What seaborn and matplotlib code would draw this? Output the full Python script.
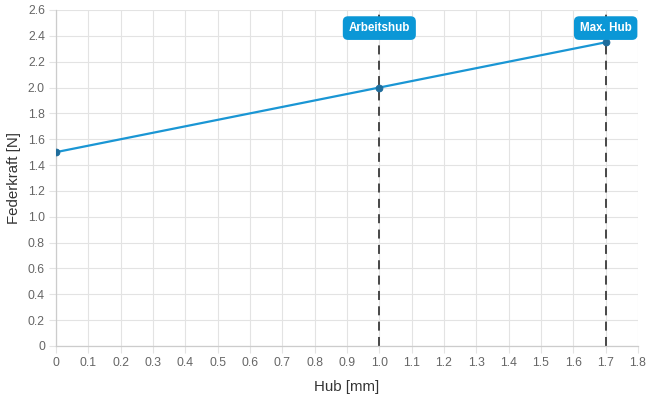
import matplotlib
matplotlib.use("Agg")
import matplotlib.pyplot as plt
import seaborn as sns
import pandas as pd

hub = [0.0, 1.0, 1.7]
kraft = [1.5, 2.0, 2.35]
marker_x = [1.0, 1.7]
marker_labels = ["Arbeitshub", "Max. Hub"]
x_ticks = [0, 0.1, 0.2, 0.3, 0.4, 0.5, 0.6, 0.7, 0.8, 0.9, 1.0, 1.1, 1.2, 1.3, 1.4, 1.5, 1.6, 1.7, 1.8]
y_ticks = [0, 0.2, 0.4, 0.6, 0.8, 1.0, 1.2, 1.4, 1.6, 1.8, 2.0, 2.2, 2.4, 2.6]

sns.set_theme(style="white")
plt.rcParams['font.family'] = ['Liberation Sans', 'DejaVu Sans']

df = pd.DataFrame({"Hub": hub, "Kraft": kraft})

fig = plt.figure(figsize=(6.5, 4), dpi=100)
ax = fig.add_axes([56/650, 1-346/400, (638-56)/650, (346-10)/400])

sns.lineplot(data=df, x="Hub", y="Kraft", ax=ax, color="#1a96d4", linewidth=1.6,
             marker="o", markersize=4.8, markerfacecolor="#1f6d9c", markeredgecolor="#1f6d9c", zorder=3)

for mx, lab in zip(marker_x, marker_labels):
    ax.axvline(mx, color="#3a3a3a", linestyle=(0, (5, 3.5)), linewidth=1.3, zorder=2)
    ax.text(mx, 2.46, lab, ha="center", va="center", color="white", fontsize=8.4, fontweight="bold",
            bbox=dict(boxstyle="round,pad=0.5,rounding_size=0.45", facecolor="#0b97d6", edgecolor="none"), zorder=4)

ax.set_xlim(0, 1.8)
ax.set_ylim(0, 2.6)
ax.set_xticks(x_ticks)
ax.set_xticklabels([("0" if v == 0 else f"{v:.1f}") for v in x_ticks])
ax.set_yticks(y_ticks)
ax.set_yticklabels([("0" if v == 0 else f"{v:.1f}") for v in y_ticks])
ax.grid(True, color="#e3e3e3", linewidth=0.8)
ax.set_axisbelow(True)
ax.tick_params(axis="both", colors="#e3e3e3", labelcolor="#666666", labelsize=8.8, length=5, width=0.8, pad=3,
               bottom=True, left=True)
for s in ["top", "right"]:
    ax.spines[s].set_visible(False)
for s in ["left", "bottom"]:
    ax.spines[s].set_color("#cccccc")
    ax.spines[s].set_linewidth(0.9)

ax.set_xlabel("Hub [mm]", fontsize=10.8, color="#333333", labelpad=8)
ax.set_ylabel("Federkraft [N]", fontsize=10.8, color="#333333", labelpad=5)

fig.savefig("out.png", dpi=100)
